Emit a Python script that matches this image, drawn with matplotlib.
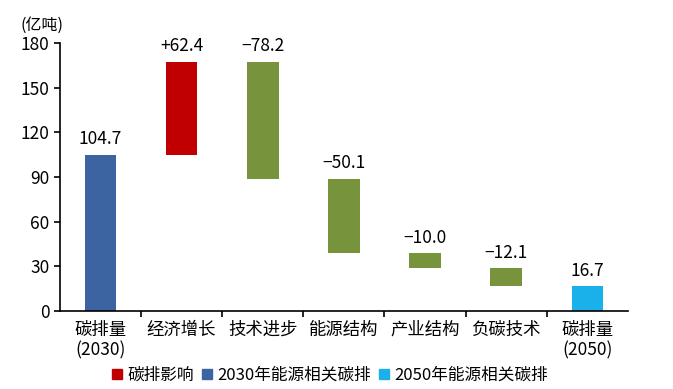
import matplotlib
matplotlib.use("Agg")
import matplotlib.pyplot as plt
from matplotlib.patches import Patch

plt.rcParams['font.family'] = ['Noto Sans CJK SC', 'DejaVu Sans']

categories = ["碳排量\n(2030)", "经济增长", "技术进步", "能源结构", "产业结构", "负碳技术", "碳排量\n(2050)"]
changes = [104.7, 62.4, -78.2, -50.1, -10.0, -12.1, 16.7]
labels = ["104.7", "+62.4", "−78.2", "−50.1", "−10.0", "−12.1", "16.7"]
yticks = [0, 30, 60, 90, 120, 150, 180]

RED = "#C00000"
GREEN = "#77933C"
BLUE = "#3B64A0"
LIGHT = "#1AB0EA"

# waterfall bottoms/heights
bottoms, heights, colors = [], [], []
level = 0
for i, v in enumerate(changes):
    if i == 0:
        bottoms.append(0); heights.append(v); colors.append(BLUE)
        level = v
    elif i == len(changes) - 1:
        bottoms.append(0); heights.append(v); colors.append(LIGHT)
    else:
        new = level + v
        bottoms.append(min(level, new)); heights.append(abs(v))
        colors.append(RED if v > 0 else GREEN)
        level = new

fig = plt.figure(figsize=(6.73, 3.89), dpi=100)
ax = fig.add_axes([0.089, 0.2, 0.844, 0.69])

x = list(range(len(categories)))
ax.bar(x, heights, bottom=bottoms, width=0.39, color=colors)
for xi, b, h, t in zip(x, bottoms, heights, labels):
    ax.text(xi, b + h + 4.5, t, ha="center", va="bottom", fontsize=12.5)

ax.set_xlim(-0.5, len(categories) - 0.5)
ax.set_ylim(0, 180)
ax.set_yticks(yticks)
ax.tick_params(axis="y", labelsize=12.5, length=4, width=1.2)
ax.set_xticks(x)
ax.set_xticklabels(categories, fontsize=12.5, linespacing=1.15)
ax.tick_params(axis="x", length=0, pad=7)
ax.set_xticks([i + 0.5 for i in x[:-1]], minor=True)
ax.tick_params(axis="x", which="minor", length=4, width=1.2)
for s in ["top", "right"]:
    ax.spines[s].set_visible(False)
for s in ["left", "bottom"]:
    ax.spines[s].set_linewidth(1.2)

fig.text(0.03, 0.935, "(亿吨)", fontsize=11.5, ha="left", va="center")

handles = [Patch(color=RED), Patch(color=BLUE), Patch(color=LIGHT)]
fig.legend(handles, ["碳排影响", "2030年能源相关碳排", "2050年能源相关碳排"],
           loc="center", bbox_to_anchor=(0.49, 0.035), ncol=3, frameon=False,
           fontsize=12, handlelength=0.6, handleheight=0.6, handletextpad=0.3,
           columnspacing=0.5)

fig.savefig("out.png", dpi=100)
